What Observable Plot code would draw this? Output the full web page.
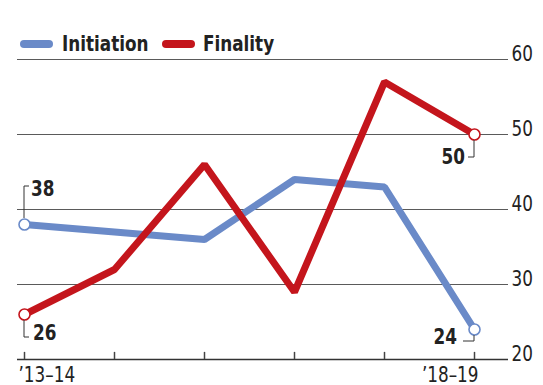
<!DOCTYPE html>
<html><head><meta charset="utf-8">
<script src="https://cdn.jsdelivr.net/npm/d3@7"></script>
<script src="https://cdn.jsdelivr.net/npm/@observablehq/plot@0.6"></script>
<style>
body{margin:0;background:#fff;}
#wrap{position:relative;width:543px;height:385px;overflow:hidden;font-family:"DejaVu Sans Condensed","DejaVu Sans",sans-serif;}
#legend{position:absolute;left:0;top:0;width:543px;height:60px;}
.sw{position:absolute;top:40px;width:33px;height:8px;border-radius:4px;}
.lt{position:absolute;top:33px;font-size:22px;line-height:22px;font-weight:bold;color:#222;white-space:nowrap;transform:scaleX(0.85);transform-origin:0 0;}
</style></head><body><div id="wrap"><div id="legend"></div></div>
<script>
const years = ["’13–14", "’14–15", "’15–16", "’16–17", "’17–18", "’18–19"];
const initiation = [38, 37, 36, 44, 43, 24];
const finality = [26, 32, 46, 29, 57, 50];
const yTicks = [20, 30, 40, 50, 60];
const seriesNames = ["Initiation", "Finality"];
const seriesColors = ["#6a8ac8", "#c4151c"];

const rows = [];
years.forEach((yr, i) => rows.push({year: yr, series: "Initiation", value: initiation[i]}));
years.forEach((yr, i) => rows.push({year: yr, series: "Finality", value: finality[i]}));
const ends = rows.filter(d => d.year === years[0] || d.year === years[years.length - 1]);
const last = years.length - 1;

const font = '"DejaVu Sans Condensed","DejaVu Sans",sans-serif';
const chart = Plot.plot({
  width: 543, height: 385,
  marginLeft: 17, marginRight: 35, marginTop: 59, marginBottom: 26,
  x: {type: "point", domain: years, range: [23, 474], padding: 0, axis: null},
  y: {domain: [20, 60], axis: null},
  color: {domain: seriesNames, range: seriesColors},
  style: {fontFamily: font, fontSize: "22px", color: "#222", background: "#fff"},
  marks: [
    Plot.ruleY(yTicks.filter(v => v > 20), {stroke: "#5a5a5a", strokeWidth: 1.2}),
    Plot.ruleY([20], {stroke: "#333", strokeWidth: 1.5}),
    Plot.ruleX(years, {x: d => d, y1: 20, y2: 20.95, stroke: "#444", strokeWidth: 1.5}),
    Plot.text(yTicks, {x: () => years[last], y: d => d, text: d => String(d), textAnchor: "start", lineAnchor: "bottom", dx: 37, dy: 1, fill: "#222", fontSize: 22}),
    Plot.text([years[0]], {x: d => d, y: 20, text: d => d, textAnchor: "start", lineAnchor: "bottom", dx: -6, dy: 22, fill: "#222", fontSize: 22}),
    Plot.text([years[last]], {x: d => d, y: 20, text: d => d, textAnchor: "end", lineAnchor: "bottom", dx: 4, dy: 22, fill: "#222", fontSize: 22}),
    Plot.line(rows, {x: "year", y: "value", z: "series", stroke: "series", strokeWidth: 7, strokeLinejoin: "miter", strokeLinecap: "butt"}),
    Plot.dot(ends, {x: "year", y: "value", stroke: "series", fill: "#fff", r: 5.5, strokeWidth: 1.6})
  ]
});
document.getElementById("wrap").appendChild(chart);

// value annotations with bracket leaders
const sx = chart.scale("x"), sy = chart.scale("y");
const svg = d3.select(chart);
const g = svg.append("g");
const anns = [
  {xv: years[0], yv: initiation[0], v: -38, h: 5, tx: 7, ty: -28, anchor: "start"},
  {xv: years[0], yv: finality[0], v: 23, h: 5, tx: 9, ty: 26, anchor: "start"},
  {xv: years[last], yv: finality[last], v: 23, h: -6, tx: -9, ty: 30, anchor: "end"},
  {xv: years[last], yv: initiation[last], v: 12, h: -11, tx: -17, ty: 15, anchor: "end"}
];
anns.forEach(a => {
  const px = sx.apply(a.xv), py = sy.apply(a.yv);
  const sgn = Math.sign(a.v);
  g.append("path")
    .attr("d", `M${px},${py + sgn * 6}V${py + a.v}H${px + a.h}`)
    .attr("fill", "none").attr("stroke", "#333").attr("stroke-width", 1);
  g.append("text")
    .attr("x", px + a.tx).attr("y", py + a.ty)
    .attr("text-anchor", a.anchor)
    .attr("font-weight", "bold").attr("font-size", 22).attr("fill", "#222")
    .attr("font-family", font)
    .text(a.yv);
});

// condense all SVG text to mimic a narrow typeface
svg.selectAll("text").each(function() {
  const len = this.getComputedTextLength();
  if (len > 0) {
    this.setAttribute("textLength", (len * 0.85).toFixed(1));
    this.setAttribute("lengthAdjust", "spacingAndGlyphs");
  }
});

// legend
const legend = document.getElementById("legend");
const swX = [20, 162], txX = [62, 203];
seriesNames.forEach((name, i) => {
  const s = document.createElement("div");
  s.className = "sw"; s.style.left = swX[i] + "px"; s.style.background = seriesColors[i];
  legend.appendChild(s);
  const t = document.createElement("div");
  t.className = "lt"; t.style.left = txX[i] + "px"; t.textContent = name;
  legend.appendChild(t);
});
</script></body></html>
